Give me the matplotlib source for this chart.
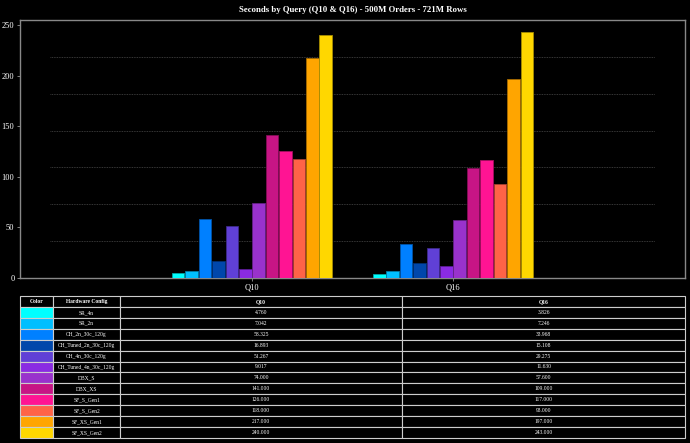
import matplotlib.pyplot as plt
import matplotlib.colors as mcolors
import numpy as np

queries = ['Q10', 'Q16']
configs = ['SR_4n', 'SR_2n', 'CH_2n_30c_120g', 'CH_Tuned_2n_30c_120g',
           'CH_4n_30c_120g', 'CH_Tuned_4n_30c_120g', 'DBX_S', 'DBX_XS',
           'SF_S_Gen1', 'SF_S_Gen2', 'SF_XS_Gen1', 'SF_XS_Gen2']
q10 = [4.760, 7.042, 58.325, 16.893, 51.267, 9.017, 74.000, 141.000,
       126.000, 118.000, 217.000, 240.000]
q16 = [3.826, 7.246, 33.968, 15.108, 29.275, 11.630, 57.600, 109.000,
       117.000, 93.000, 197.000, 243.000]
colors = ['#00FFFF', '#00BFFF', '#0080FF', '#0047AB', '#6040D6', '#8A2BE2',
          '#9932CC', '#C71585', '#FF1493', '#FF6347', '#FFA500', '#FFD700']

plt.rcParams['font.family'] = ['Liberation Serif', 'DejaVu Serif']

def darker(c, f=0.65):
    r, g, b = mcolors.to_rgb(c)
    return (r*f, g*f, b*f)

fig = plt.figure(figsize=(6.9, 4.43), dpi=100, facecolor='black')
ax = fig.add_axes([20/690, 1-278/443, 665/690, 258/443])
ax.set_facecolor('black')

n = len(configs)
w = 0.8/n
x = np.arange(len(queries))
values = np.array([q10, q16]).T
for i in range(n):
    ax.bar(x + (i - (n-1)/2)*w, values[i], width=w*0.94, color=colors[i],
           edgecolor=darker(colors[i]), linewidth=0.6, zorder=3)

ymax = 255
ax.set_ylim(0, ymax)
ax.set_xlim(-1.153, 2.153)
for k in range(1, 7):
    ax.axhline(k*ymax/7, xmin=0.045, xmax=0.955, color='#4a4a4a',
               linestyle=(0, (1, 1)), linewidth=0.6, zorder=1)

ax.set_xticks(x)
ax.set_xticklabels(queries)
ax.set_yticks([0, 50, 100, 150, 200, 250])
ax.tick_params(labelsize=6, length=2, width=0.6, pad=2)
ax.tick_params(axis='x', colors='#999999', labelcolor='white')
ax.tick_params(axis='y', colors='#999999', labelcolor='white')
for s in ax.spines.values():
    s.set_color('#888888')
    s.set_linewidth(1.0)

ax.set_title('Seconds by Query (Q10 & Q16) - 500M Orders - 721M Rows',
             color='white', fontsize=6.3, fontweight='bold', pad=6)

# table
tax = fig.add_axes([20/690, 5/443, 665/690, 142/443])
tax.axis('off')
cell_text = [['', c, f'{a:.3f}', f'{b:.3f}'] for c, a, b in zip(configs, q10, q16)]
tbl = tax.table(cellText=cell_text, colLabels=['Color', 'Hardware Config'] + queries,
                bbox=[0, 0, 1, 1], cellLoc='center',
                colWidths=[33/665, 67/665, 282/665, 283/665])
tbl.auto_set_font_size(False)
tbl.set_fontsize(4)
for (r, c), cell in tbl.get_celld().items():
    cell.set_edgecolor('#cccccc')
    cell.set_linewidth(0.8)
    cell.set_facecolor('black')
    cell.get_text().set_color('white')
    if r == 0:
        cell.get_text().set_fontweight('bold')
    elif c == 0:
        cell.set_facecolor(colors[r-1])

fig.savefig('out.png', dpi=100, facecolor='black')
